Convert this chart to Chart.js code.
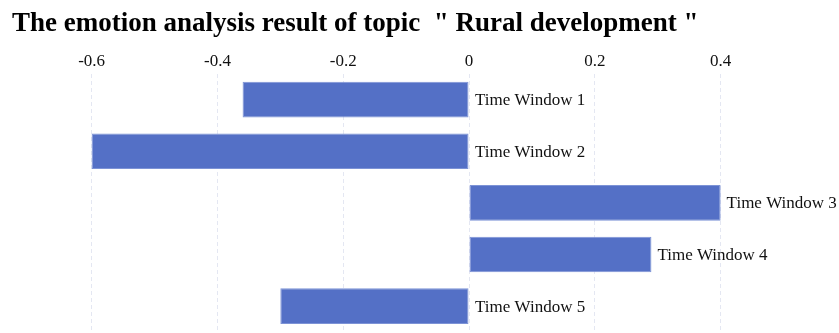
<!DOCTYPE html>
<html>
<head>
<meta charset="utf-8">
<title>Rural development emotion analysis</title>
<script src="https://cdn.jsdelivr.net/npm/chart.js@4"></script>
<style>
  html, body { margin: 0; padding: 0; background: #fff; }
  #wrap { width: 839px; height: 333px; }
</style>
</head>
<body>
<div id="wrap"><canvas id="myChart" width="839" height="333"></canvas></div>
<script>
// emotion score per time window
var windows = ['Time Window 1', 'Time Window 2', 'Time Window 3', 'Time Window 4', 'Time Window 5'];
var scores = [-0.36, -0.6, 0.4, 0.29, -0.3];
var tickValues = [-0.6, -0.4, -0.2, 0, 0.2, 0.4];

var serif = '"Liberation Serif", "Times New Roman", serif';

// writes the window name just right of the bar (or of zero for negative bars)
var windowLabels = {
    id: 'windowLabels',
    afterDatasetsDraw: function (chart) {
        var ctx = chart.ctx;
        var xScale = chart.scales.x;
        var meta = chart.getDatasetMeta(0);
        ctx.save();
        ctx.font = '17px ' + serif;
        ctx.fillStyle = '#111';
        ctx.textAlign = 'left';
        ctx.textBaseline = 'middle';
        meta.data.forEach(function (bar, i) {
            var x = xScale.getPixelForValue(Math.max(0, scores[i])) + 6;
            ctx.fillText(windows[i], x, bar.y + 1);
        });
        ctx.restore();
    }
};

var ctx = document.getElementById('myChart').getContext('2d');

var myChart = new Chart(ctx, {
    type: 'bar',
    data: {
        labels: windows,
        datasets: [{
            data: scores,
            backgroundColor: '#5470c6',
            borderColor: '#7d93d6',
            borderWidth: 1,
            borderSkipped: false,
            categoryPercentage: 1,
            barPercentage: 0.69
        }]
    },
    options: {
        indexAxis: 'y',
        responsive: false,
        animation: false,
        layout: { padding: { left: 12, right: 0, top: 0, bottom: 1 } },
        plugins: {
            legend: { display: false },
            tooltip: { enabled: false },
            title: {
                display: true,
                text: 'The emotion analysis result of topic  " Rural development "',
                align: 'start',
                color: '#000',
                font: { family: serif, size: 27, weight: 'bold' },
                padding: { top: 8, bottom: 9 }
            }
        },
        scales: {
            x: {
                position: 'top',
                min: -0.7266,
                max: 0.5882,
                afterBuildTicks: function (scale) {
                    scale.ticks = tickValues.map(function (v) { return { value: v }; });
                },
                ticks: {
                    color: '#111',
                    padding: 2,
                    font: { family: serif, size: 17 },
                    callback: function (v) { return String(Math.round(v * 10) / 10); }
                },
                grid: { color: '#e4e7f2', drawTicks: false, lineWidth: 1 },
                border: { display: false, dash: [4, 3] }
            },
            y: {
                display: false
            }
        }
    },
    plugins: [windowLabels]
});
</script>
</body>
</html>
